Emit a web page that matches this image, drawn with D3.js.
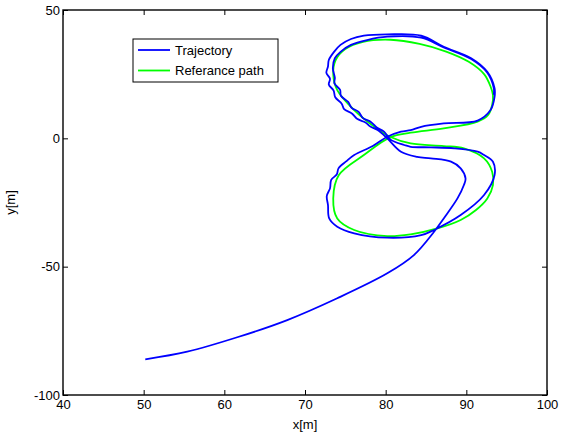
<!DOCTYPE html>
<html>
<head>
<meta charset="utf-8">
<script src="https://cdn.jsdelivr.net/npm/d3@7"></script>
<style>
  body { margin: 0; background: #fff; }
  text { font-family: "Liberation Sans", Arial, sans-serif; }
</style>
</head>
<body>
<div id="chart"></div>
<script>
// reference figure-8 path
const refX = [80.6, 83.1, 87.2, 91.4, 92.7, 93.2, 93.3, 93.0, 92.2, 90.3, 87.5, 84.2, 80.6, 77.2, 75.0, 73.8, 73.5, 74.0, 76.1, 78.6,
  80.6, 83.1, 87.2, 89.7, 92.2, 93.2, 93.3, 92.6, 91.2, 89.3, 86.4, 83.1, 80.2, 76.1, 74.0, 73.5, 74.2, 77.3];
const refY = [0.5, 2.2, 3.9, 6.5, 9.1, 13.0, 16.9, 20.2, 25.0, 29.8, 33.8, 36.8, 38.4, 37.6, 34.8, 30.5, 25.0, 18.8, 11.0, 4.5,
  0.5, -2.0, -3.0, -3.9, -7.8, -13.0, -18.2, -23.4, -27.9, -31.8, -35.1, -37.4, -38.1, -35.7, -31.2, -23.4, -14.3, -6.5];

// vehicle trajectory
const trajX = [50.2, 55.4, 61.6, 67.8, 74.0, 80.2, 83.5, 86.0, 87.2, 88.9, 89.7, 89.9, 89.3, 88.1, 85.6, 83.9, 81.9, 80.2,
  79.0, 78.1, 77.5, 76.45, 75.85, 74.85, 74.55, 73.75, 73.55, 72.95, 73.1, 72.65, 72.85, 72.95, 73.6, 74.4, 75.7, 77.3, 80.2, 84.4, 87.2, 90.6, 92.6, 93.5, 93.5, 93.0, 91.4, 87.2, 84.4, 83.1, 81.9, 80.2,
  78.4, 76.1, 75.1, 74.15, 73.95, 73.25, 73.1, 72.7, 72.85, 73.0, 74.0, 76.1, 80.2, 84.4, 86.0, 89.3, 92.2, 93.5, 93.3, 92.2, 91.4, 88.5, 85.6, 83.1, 82.3, 80.6,
  79.8, 78.9, 78.2, 77.15, 76.65, 75.75, 75.35, 74.45, 74.35, 73.65, 73.7, 73.45, 73.7, 74.4, 75.7, 77.7, 80.2, 84.4, 87.2, 90.6, 92.6, 93.4, 93.4];
const trajY = [-86.1, -83.1, -77.5, -70.8, -62.3, -52.6, -45.5, -36.4, -31.2, -23.4, -18.2, -15.6, -11.7, -9.1, -7.8, -7.2, -5.2, 0.0,
  3.2, 4.6, 6.2, 7.6, 9.6, 11.4, 13.5, 16.0, 18.6, 21.0, 23.2, 25.5, 28.0, 30.5, 33.7, 36.4, 38.7, 40.0, 40.5, 40.0, 35.7, 31.2, 25.9, 19.5, 16.2, 11.0, 6.9, 5.8, 4.5, 3.2, 2.6, 0.6,
  -3.0, -6.5, -9.0, -11.7, -14.0, -16.2, -19.5, -22.5, -26.0, -31.2, -34.4, -37.0, -38.7, -37.7, -35.7, -29.9, -22.1, -14.3, -9.1, -6.5, -5.2, -3.9, -3.5, -3.3, -2.6, -0.5,
  2.6, 4.2, 6.3, 8.0, 10.3, 12.0, 14.2, 16.6, 18.9, 21.4, 23.6, 27.3, 31.2, 33.7, 36.4, 38.3, 39.6, 39.2, 35.4, 30.9, 25.6, 19.6, 16.9];

const xTicks = [40, 50, 60, 70, 80, 90, 100];
const yTicks = [-100, -50, 0, 50];
const legendLabels = ["Trajectory", "Referance path"];
const legendColors = ["#0000ff", "#00ff00"];

const width = 566;
const height = 436;
const mLeft = 63, mRight = 547, mTop = 10, mBottom = 395;

const x = d3.scaleLinear().domain([40, 100]).range([mLeft, mRight]);
const y = d3.scaleLinear().domain([-100, 50]).range([mBottom, mTop]);

const svg = d3.select("#chart")
  .append("svg")
  .attr("width", width)
  .attr("height", height);

// axes, ticks pointing inward like matlab
const fontSize = "13px";
const plain = d => String(d);
svg.append("g")
  .attr("transform", `translate(0,${mBottom})`)
  .call(d3.axisBottom(x).tickValues(xTicks).tickFormat(plain).tickSizeInner(-5).tickSizeOuter(0).tickPadding(5))
  .call(g => g.select(".domain").remove())
  .call(g => g.selectAll("text").style("font-size", fontSize).attr("fill", "#000"));

svg.append("g")
  .attr("transform", `translate(${mLeft},0)`)
  .call(d3.axisLeft(y).tickValues(yTicks).tickFormat(plain).tickSizeInner(-5).tickSizeOuter(0).tickPadding(3))
  .call(g => g.select(".domain").remove())
  .call(g => g.selectAll("text").style("font-size", fontSize).attr("fill", "#000"));

svg.append("g")
  .attr("transform", `translate(0,${mTop})`)
  .call(d3.axisTop(x).tickValues(xTicks).tickSizeInner(-5).tickSizeOuter(0).tickFormat(""))
  .call(g => g.select(".domain").remove());

svg.append("g")
  .attr("transform", `translate(${mRight},0)`)
  .call(d3.axisRight(y).tickValues(yTicks).tickSizeInner(-5).tickSizeOuter(0).tickFormat(""))
  .call(g => g.select(".domain").remove());

svg.selectAll(".tick line").attr("stroke", "#000").attr("stroke-width", 1);

svg.append("rect")
  .attr("x", mLeft)
  .attr("y", mTop)
  .attr("width", mRight - mLeft)
  .attr("height", mBottom - mTop)
  .attr("fill", "none")
  .attr("stroke", "#000")
  .attr("stroke-width", 1.4);

// lines
const refLine = d3.line()
  .x((d, i) => x(refX[i]))
  .y((d, i) => y(refY[i]))
  .curve(d3.curveCatmullRomClosed);

const trajLine = d3.line()
  .x((d, i) => x(trajX[i]))
  .y((d, i) => y(trajY[i]))
  .curve(d3.curveCatmullRom);

svg.append("path")
  .attr("d", refLine(refX))
  .attr("fill", "none")
  .attr("stroke", "#00ff00")
  .attr("stroke-width", 1.8);

svg.append("path")
  .attr("d", trajLine(trajX))
  .attr("fill", "none")
  .attr("stroke", "#0000ff")
  .attr("stroke-width", 1.8);

// axis labels
svg.append("text")
  .attr("x", (mLeft + mRight) / 2)
  .attr("y", 429)
  .attr("text-anchor", "middle")
  .style("font-size", fontSize)
  .text("x[m]");

svg.append("text")
  .attr("transform", `translate(15,${(mTop + mBottom) / 2}) rotate(-90)`)
  .attr("text-anchor", "middle")
  .style("font-size", fontSize)
  .text("y[m]");

// legend
const legend = svg.append("g").attr("transform", "translate(133,39)");
legend.append("rect")
  .attr("width", 145)
  .attr("height", 43)
  .attr("fill", "#fff")
  .attr("stroke", "#000")
  .attr("stroke-width", 1);

legendLabels.forEach((lab, i) => {
  const ly = 11 + i * 20.5;
  legend.append("line")
    .attr("x1", 5).attr("x2", 37)
    .attr("y1", ly).attr("y2", ly)
    .attr("stroke", legendColors[i])
    .attr("stroke-width", 1.8);
  legend.append("text")
    .attr("x", 42)
    .attr("y", ly)
    .attr("dy", "0.35em")
    .style("font-size", fontSize)
    .text(lab);
});
</script>
</body>
</html>
